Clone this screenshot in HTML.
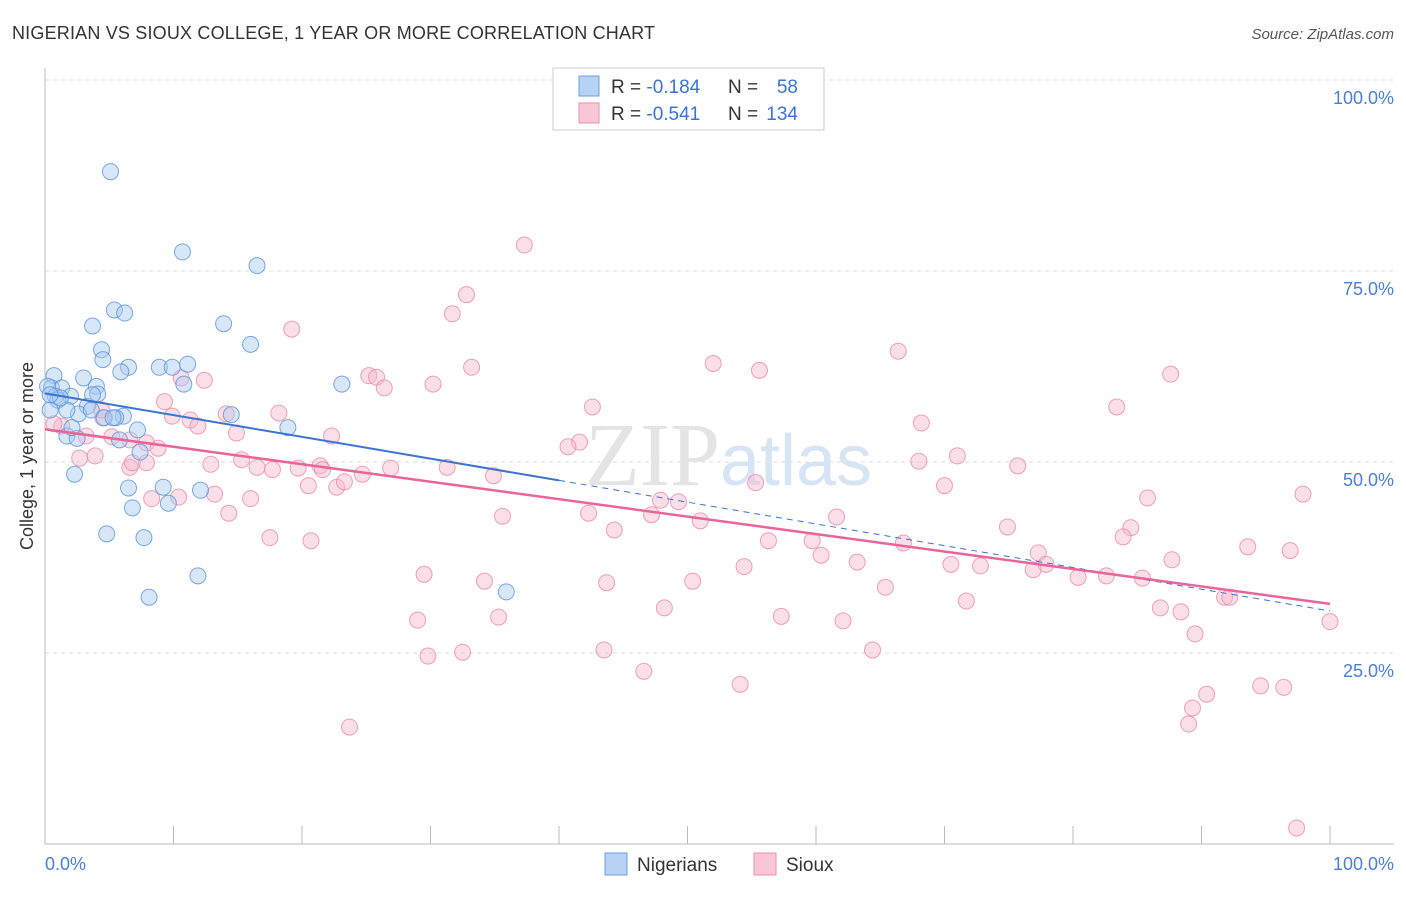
<!DOCTYPE html>
<html><head><meta charset="utf-8"><style>
body{margin:0;background:#fff;font-family:"Liberation Sans",sans-serif;}
</style></head><body>
<svg width="1406" height="892" xmlns="http://www.w3.org/2000/svg" font-family="Liberation Sans, sans-serif">
<text x="12" y="39" font-size="18" fill="#333" textLength="643">NIGERIAN VS SIOUX COLLEGE, 1 YEAR OR MORE CORRELATION CHART</text>
<text x="1394" y="39" font-size="15" fill="#555" text-anchor="end" font-style="italic">Source: ZipAtlas.com</text>
<g id="grid"></g>
<text x="720" y="485" font-size="90" fill="#e4e4e4" text-anchor="end" font-family="Liberation Serif, serif">ZIP</text>
<text x="720" y="485" font-size="72" fill="#d6e4f4">atlas</text>
<g id="pts"></g>
<g id="lines"></g>
<text x="33" y="456" font-size="18" fill="#333" text-anchor="middle" transform="rotate(-90 33 456)">College, 1 year or more</text>
<text x="45" y="870" font-size="18" fill="#4a7fd4">0.0%</text>
<text x="1394" y="870" font-size="18" fill="#4a7fd4" text-anchor="end">100.0%</text>
<g>
<rect x="553" y="68" width="271" height="62" fill="#fff" stroke="#ccc"/>
<rect x="579" y="76" width="20" height="20" fill="#b7d3f4" stroke="#6a9fe0"/>
<rect x="579" y="103" width="20" height="20" fill="#f8c6d6" stroke="#ee8eaf"/>
<text x="611" y="93" font-size="19" fill="#333">R = <tspan fill="#3b73d2">-0.184</tspan></text>
<text x="728" y="93" font-size="19" fill="#333">N = </text><text x="798" y="93" font-size="19" fill="#3b73d2" text-anchor="end">58</text>
<text x="611" y="120" font-size="19" fill="#333">R = <tspan fill="#3b73d2">-0.541</tspan></text>
<text x="728" y="120" font-size="19" fill="#333">N = </text><text x="798" y="120" font-size="19" fill="#3b73d2" text-anchor="end">134</text>
</g>
<g>
<rect x="605" y="853" width="22" height="22" fill="#b7d3f4" stroke="#6a9fe0"/>
<text x="637" y="871" font-size="19" fill="#333">Nigerians</text>
<rect x="754" y="853" width="22" height="22" fill="#f8c6d6" stroke="#ee8eaf"/>
<text x="786" y="871" font-size="19" fill="#333">Sioux</text>
</g>
</svg>
<script>
const yTicks=[25,50,75,100];
const yTickLabels=["25.0%","50.0%","75.0%","100.0%"];
const xTicks=[0,10,20,30,40,50,60,70,80,90,100];
const nigX=[5.1,10.7,16.5,5.4,6.2,3.7,13.9,16.0,4.4,4.5,6.5,5.9,8.9,9.9,11.1,10.8,0.7,3.0,4.0,0.5,1.3,0.2,0.8,2.0,4.1,1.0,3.3,2.6,3.6,6.1,14.5,5.5,4.6,7.2,18.9,1.7,5.8,2.5,7.4,2.3,6.5,9.2,12.1,6.8,9.6,4.8,7.7,11.9,8.1,35.9,23.1,0.4,1.7,1.2,0.4,5.3,2.1,3.7];
const nigY=[88.0,77.5,75.7,69.9,69.5,67.8,68.1,65.4,64.7,63.4,62.4,61.8,62.4,62.4,62.8,60.2,61.3,61.0,59.9,59.7,59.7,59.9,58.6,58.6,58.9,58.1,57.3,56.3,56.8,56.0,56.2,55.8,55.8,54.2,54.5,53.4,52.9,53.1,51.3,48.4,46.6,46.7,46.3,44.0,44.6,40.6,40.1,35.1,32.3,33.0,60.2,56.8,56.8,58.4,58.8,55.8,54.5,58.8];
const siouxX=[37.3,32.8,31.7,19.2,52.0,66.4,33.2,55.6,25.2,25.8,26.4,30.2,87.6,12.4,10.6,83.4,42.6,68.2,9.3,14.1,18.2,9.9,11.3,11.9,14.9,22.3,41.6,40.7,6.6,7.9,8.8,4.5,4.4,3.2,1.3,0.7,2.7,3.9,12.9,15.3,16.5,17.7,19.7,21.4,21.6,24.7,26.9,31.3,34.9,55.3,70.0,68.0,71.0,75.7,85.8,97.9,6.6,6.8,7.9,8.3,10.4,13.2,14.3,16.0,20.5,22.7,23.3,17.5,20.7,35.6,42.3,44.3,47.9,49.3,47.2,51.0,61.6,56.3,59.7,60.4,63.2,66.8,70.5,72.8,74.9,77.3,77.9,76.9,80.4,82.6,84.5,83.9,85.4,87.7,93.6,96.9,29.5,34.2,43.7,50.4,54.4,65.4,71.7,86.8,88.4,89.5,91.8,92.2,29.0,35.3,48.2,57.3,62.1,100.0,29.8,32.5,43.5,46.6,54.1,64.4,90.4,89.3,89.0,94.6,96.4,23.7,97.4,5.2];
const siouxY=[78.4,71.9,69.4,67.4,62.9,64.5,62.4,62.0,61.3,61.1,59.7,60.2,61.5,60.7,61.0,57.2,57.2,55.1,57.9,56.3,56.4,56.0,55.5,54.7,53.8,53.4,52.6,52.0,52.9,52.5,51.8,55.8,56.8,53.4,54.7,55.0,50.5,50.8,49.7,50.3,49.3,49.0,49.2,49.5,49.0,48.4,49.2,49.3,48.2,47.3,46.9,50.1,50.8,49.5,45.3,45.8,49.3,49.9,49.9,45.2,45.4,45.8,43.3,45.2,46.9,46.7,47.4,40.1,39.7,42.9,43.3,41.1,45.0,44.8,43.1,42.3,42.8,39.7,39.7,37.8,36.9,39.4,36.6,36.4,41.5,38.1,36.6,35.9,34.9,35.1,41.4,40.2,34.8,37.2,38.9,38.4,35.3,34.4,34.2,34.4,36.3,33.6,31.8,30.9,30.4,27.5,32.3,32.3,29.3,29.7,30.9,29.8,29.2,29.1,24.6,25.1,25.4,22.6,20.9,25.4,19.6,17.8,15.7,20.7,20.5,15.3,2.1,53.3];
const NS="http://www.w3.org/2000/svg";
const X0=45,X1=1330,Y0=844,Y1=80;
const sx=v=>X0+(X1-X0)*v/100, sy=v=>Y0-(Y0-Y1)*v/100;
function mk(tag,attrs,parent){const e=document.createElementNS(NS,tag);for(const k in attrs)e.setAttribute(k,attrs[k]);parent.appendChild(e);return e;}
const grid=document.getElementById('grid');
yTicks.forEach((t,i)=>{
 const l=mk('line',{x1:X0,x2:1394,y1:sy(t),y2:sy(t),stroke:'#ddd','stroke-dasharray':'4 4'},grid);
 
 
 const tx=mk('text',{x:1394,y:sy(t)+24,'font-size':18,fill:'#4a7fd4','text-anchor':'end'},grid);
 tx.textContent=yTickLabels[i];
 
 
});
const ax=mk('line',{x1:X0,x2:X0,y1:68,y2:Y0,stroke:'#bbb'},grid);


const bx=mk('line',{x1:X0,x2:1394,y1:Y0,y2:Y0,stroke:'#bbb'},grid);


xTicks.forEach(t=>{const l=mk('line',{x1:sx(t),x2:sx(t),y1:Y0,y2:Y0-18+(t==0?18:0),stroke:'#bbb'},grid);
 
 });
const pts=document.getElementById('pts');
function dots(xs,ys,fill,stroke,name){xs.forEach((x,i)=>{const c=mk('circle',{cx:sx(x),cy:sy(ys[i]),r:8,fill:fill,'fill-opacity':0.45,stroke:stroke,'stroke-opacity':0.8,'stroke-width':1},pts);
 
 });}
dots(siouxX,siouxY,'#f7b8cc','#ea8aab','sioux-point');
dots(nigX,nigY,'#a9c9f0','#5a92dc','nigerian-point');
function fit(xs,ys){const n=xs.length;let mx=0,my=0;xs.forEach((x,i)=>{mx+=x;my+=ys[i];});mx/=n;my/=n;let a=0,b=0;xs.forEach((x,i)=>{a+=(x-mx)*(ys[i]-my);b+=(x-mx)*(x-mx);});const s=a/b;return x=>my+s*(x-mx);}
const lines=document.getElementById('lines');
const fb=fit(nigX,nigY),fp=fit(siouxX,siouxY);
let l1=mk('line',{x1:sx(0),y1:sy(fb(0)),x2:sx(40),y2:sy(fb(40)),stroke:'#3b73d2','stroke-width':2},lines);


let l2=mk('line',{x1:sx(40),y1:sy(fb(40)),x2:sx(100),y2:sy(fb(100)),stroke:'#3b73d2','stroke-width':1,'stroke-dasharray':'6 5'},lines);


let l3=mk('line',{x1:sx(0),y1:sy(fp(0)),x2:sx(100),y2:sy(fp(100)),stroke:'#e8649a','stroke-width':2.5},lines);


</script>
</body></html>
